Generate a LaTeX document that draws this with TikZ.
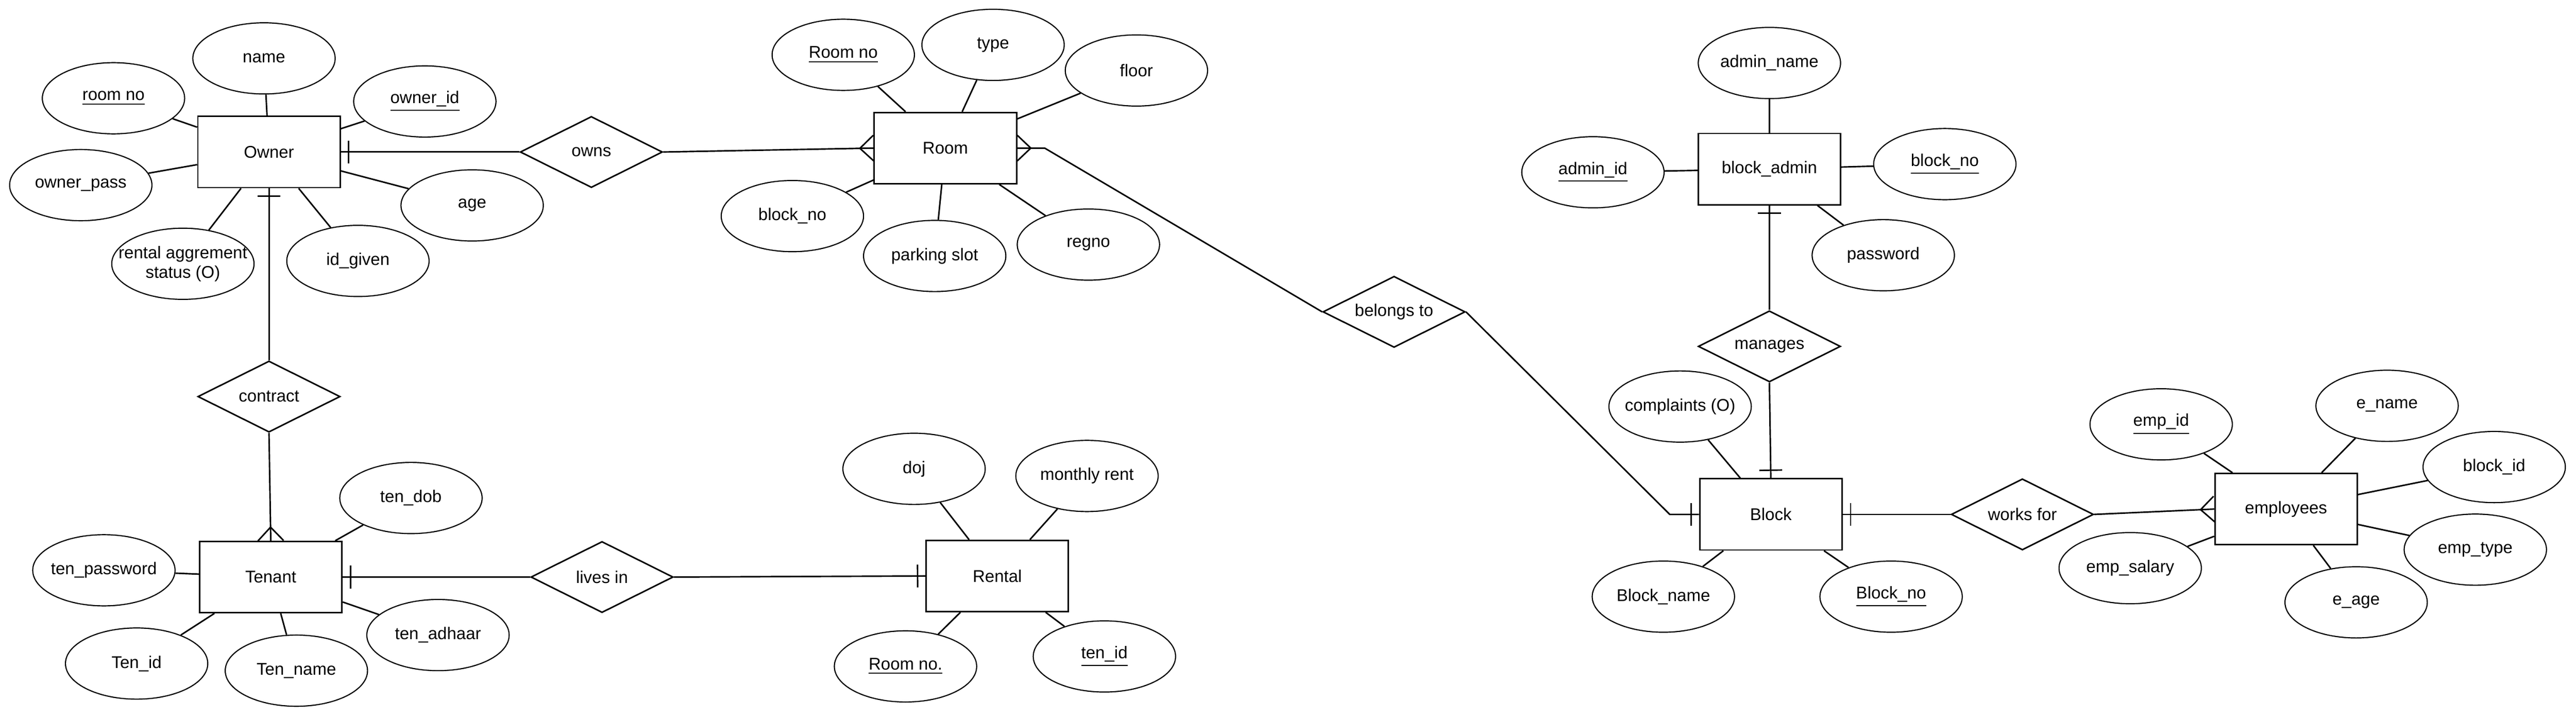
\documentclass[tikz,border=0pt]{standalone}
\usepackage{fontspec}
\setmainfont{Liberation Sans}
\usetikzlibrary{shapes.geometric,positioning,decorations.markings}

\tikzset{
  entity/.style={draw, rectangle, minimum width=2cm, minimum height=1cm},
  attr/.style={draw, ellipse, minimum width=2cm, minimum height=1cm,
    inner xsep=-0.25cm, inner ysep=0pt, line width=0.45pt},
  rel/.style={draw, diamond, aspect=2, minimum width=2cm, minimum height=1cm, inner sep=0pt},
  one/.style={postaction={decorate, decoration={markings,
    mark=at position -0.11cm with {\draw (0,-0.16) -- (0,0.16);}}}},
  many/.style={postaction={decorate, decoration={markings,
    mark=at position -0.19cm with {\draw (0.19,0.18) -- (0,0) -- (0.19,-0.18);}}}},
}
\newcommand{\pkey}[1]{\underline{#1}}

\begin{document}
\begin{tikzpicture}[on grid, font=\fontsize{6.8}{7.8}\selectfont, line width=0.6pt]
  \useasboundingbox (0,0) rectangle (36.2,-10.065);

  % entities
  \node[entity] (owner) at (3.78,-2.135) {Owner};
  \node[entity] (room) at (13.285,-2.08) {Room};
  \node[entity] (tenant) at (3.805,-8.105) {Tenant};
  \node[entity] (rental) at (14.015,-8.09) {Rental};
  \node[entity] (blockadmin) at (24.865,-2.375) {block\_admin};
  \node[entity] (block) at (24.885,-7.225) {Block};
  \node[entity] (employees) at (32.125,-7.15) {employees};

  % relations
  \node[rel] (owns) [right=4.53cm of owner] {owns};
  \node[rel] (contract) [below=3.435cm of owner] {contract};
  \node[rel] (livesin) [right=4.655cm of tenant] {lives in};
  \node[rel] (belongs) [below right=2.3cm and 6.305cm of room] {belongs to};
  \node[rel] (manages) [below=2.49cm of blockadmin] {manages};
  \node[rel] (worksfor) [right=3.535cm of block] {works for};

  % owner attributes
  \node[attr] (name) [above left=1.315cm and 0.07cm of owner] {name};
  \node[attr] (roomno) [above left=0.755cm and 2.185cm of owner] {\pkey{room no}};
  \node[attr] (ownerid) [above right=0.71cm and 2.19cm of owner] {\pkey{owner\_id}};
  \node[attr] (ownerpass) [below left=0.465cm and 2.645cm of owner] {owner\_pass};
  \node[attr] (age) [below right=0.75cm and 2.855cm of owner] {age};
  \node[attr] (idgiven) [below right=1.53cm and 1.25cm of owner] {id\_given};
  \node[attr, align=center] (agreement) [below left=1.57cm and 1.21cm of owner]
    {rental aggrement\\status (O)};

  % room attributes
  \node[attr] (roomid) [above left=1.31cm and 1.435cm of room] {\pkey{Room no}};
  \node[attr] (type) [above right=1.45cm and 0.67cm of room] {type};
  \node[attr] (floor) [above right=1.09cm and 2.685cm of room] {floor};
  \node[attr] (roomblock) [below left=0.955cm and 2.15cm of room] {block\_no};
  \node[attr] (parking) [below left=1.515cm and 0.15cm of room] {parking slot};
  \node[attr] (regno) [below right=1.355cm and 2.01cm of room] {regno};

  % block_admin attributes
  \node[attr] (adminname) [above=1.49cm of blockadmin] {admin\_name};
  \node[attr] (adminid) [below left=0.045cm and 2.48cm of blockadmin] {\pkey{admin\_id}};
  \node[attr] (adminblock) [above right=0.07cm and 2.465cm of blockadmin] {\pkey{block\_no}};
  \node[attr] (password) [below right=1.21cm and 1.6cm of blockadmin] {password};

  % tenant attributes
  \node[attr] (tendob) [above right=1.11cm and 1.97cm of tenant] {ten\_dob};
  \node[attr] (tenpass) [above left=0.095cm and 2.345cm of tenant] {ten\_password};
  \node[attr] (tenid) [below left=1.215cm and 1.885cm of tenant] {Ten\_id};
  \node[attr] (tenname) [below right=1.315cm and 0.36cm of tenant] {Ten\_name};
  \node[attr] (tenadhaar) [below right=0.815cm and 2.35cm of tenant] {ten\_adhaar};

  % rental attributes
  \node[attr] (doj) [above left=1.505cm and 1.17cm of rental] {doj};
  \node[attr] (rent) [above right=1.405cm and 1.26cm of rental] {monthly rent};
  \node[attr] (rentroom) [below left=1.27cm and 1.29cm of rental] {\pkey{Room no.}};
  \node[attr] (rentten) [below right=1.13cm and 1.505cm of rental] {\pkey{ten\_id}};

  % block attributes
  \node[attr] (complaints) [above left=1.515cm and 1.275cm of block] {complaints (O)};
  \node[attr] (blockname) [below left=1.155cm and 1.51cm of block] {Block\_name};
  \node[attr] (blockno) [below right=1.155cm and 1.69cm of block] {\pkey{Block\_no}};

  % employee attributes
  \node[attr] (empid) [above left=1.19cm and 1.755cm of employees] {\pkey{emp\_id}};
  \node[attr] (ename) [above right=1.45cm and 1.42cm of employees] {e\_name};
  \node[attr] (blockid) [above right=0.59cm and 2.925cm of employees] {block\_id};
  \node[attr] (emptype) [below right=0.57cm and 2.66cm of employees] {emp\_type};
  \node[attr] (eage) [below right=1.31cm and 0.985cm of employees] {e\_age};
  \node[attr] (empsalary) [below left=0.83cm and 2.19cm of employees] {emp\_salary};

  % attribute lines
  \path (owner) edge (name) edge (roomno) edge (ownerid) edge (ownerpass)
                edge (age) edge (idgiven) edge (agreement)
        (room) edge (roomid) edge (type) edge (floor) edge (roomblock)
               edge (parking) edge (regno)
        (blockadmin) edge (adminname) edge (adminid) edge (adminblock) edge (password)
        (tenant) edge (tendob) edge (tenpass) edge (tenid) edge (tenname) edge (tenadhaar)
        (rental) edge (doj) edge (rent) edge (rentroom) edge (rentten)
        (block) edge (complaints) edge (blockname) edge (blockno)
        (employees) edge (empid) edge (ename) edge (blockid) edge (emptype)
                    edge (eage) edge (empsalary);

  % relationship lines
  \draw[one] (owns.west) -- (owner.east);
  \draw[many] (owns.east) -- (room.west);
  \draw[one] (contract.north) -- (owner.south);
  \draw[many] (contract.south) -- (tenant.north);
  \draw[one] (livesin.west) -- (tenant.east);
  \draw[one] (livesin.east) -- (rental.west);
  \draw[many] (belongs.west) -- ([xshift=0.385cm]room.east) -- (room.east);
  \draw[one] (belongs.east) -- ([xshift=-0.41cm]block.west) -- (block.west);
  \draw[one] (manages.north) -- (blockadmin.south);
  \draw[one] (manages.south) -- (block.north);
  \draw[one] (worksfor.west) -- ([xshift=0.37cm]block.east) -- (block.east);
  \draw[many] (worksfor.east) -- (employees.west);
\end{tikzpicture}
\end{document}
